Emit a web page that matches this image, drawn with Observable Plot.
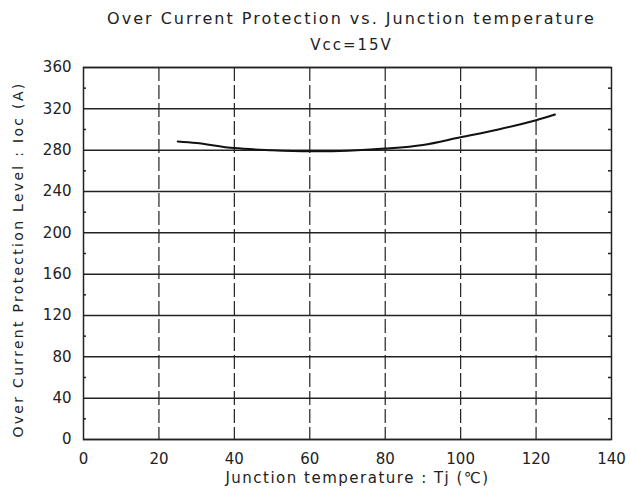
<!DOCTYPE html>
<html>
<head>
<meta charset="utf-8">
<script src="https://cdn.jsdelivr.net/npm/d3@7"></script>
<script src="https://cdn.jsdelivr.net/npm/@observablehq/plot@0.6"></script>
<style>
  body { margin: 0; background: #fff; }
</style>
</head>
<body>
<div id="chart"></div>
<script>
const titleText = "Over Current Protection vs. Junction temperature";
const subtitleText = "Vcc=15V";
const xLabel = "Junction temperature : Tj (\u2103)";
const yLabel = "Over Current Protection Level : Ioc (A)";
const xTicks = [0, 20, 40, 60, 80, 100, 120, 140];
const yTicks = [0, 40, 80, 120, 160, 200, 240, 280, 320, 360];
const yMinor = [20, 60, 100, 140, 180, 220, 260, 300, 340];
const tj  = [25, 30, 40, 50, 60, 70, 80, 90, 100, 110, 120, 125];
const ioc = [288.5, 287, 282, 280, 279, 279.5, 281.5, 285, 292.5, 300, 309, 314.5];

const curve = tj.map((t, i) => ({tj: t, ioc: ioc[i]}));
const ink = "#222";

const chart = Plot.plot({
  width: 630,
  height: 494,
  marginLeft: 83,
  marginRight: 19,
  marginTop: 67,
  marginBottom: 55,
  style: {fontFamily: "DejaVu Sans", fontSize: "14px", color: ink, background: "#fff"},
  x: {domain: [0, 140]},
  y: {domain: [0, 360]},
  marks: [
    Plot.ruleY(yTicks, {stroke: ink, strokeWidth: 1.5}),
    Plot.ruleX(xTicks.filter(d => d > 0 && d < 140), {stroke: ink, strokeWidth: 1.2, strokeDasharray: "14,4"}),
    Plot.ruleY(yMinor, {x1: 0, x2: 0.8, stroke: ink, strokeWidth: 1.5}),
    Plot.ruleY(yMinor, {x1: 139.2, x2: 140, stroke: ink, strokeWidth: 1.5}),
    Plot.frame({stroke: ink, strokeWidth: 1.5}),
    Plot.line(curve, {x: "tj", y: "ioc", curve: "catmull-rom", stroke: "#111", strokeWidth: 2}),
    Plot.axisX({ticks: xTicks, tickSize: 0, tickPadding: 14, label: null, fontSize: 15}),
    Plot.axisY({ticks: yTicks, tickSize: 0, tickPadding: 12, label: null, fontSize: 15}),
    Plot.text([titleText], {frameAnchor: "top", lineAnchor: "middle", dy: -49, dx: 4, fontSize: 16, fill: ink}),
    Plot.text([subtitleText], {frameAnchor: "top", lineAnchor: "middle", dy: -22, dx: 4, fontSize: 15, fill: ink}),
    Plot.text([xLabel], {frameAnchor: "bottom", lineAnchor: "middle", dy: 39, dx: 10, fontSize: 15, fill: ink}),
    Plot.text([yLabel], {frameAnchor: "left", textAnchor: "middle", lineAnchor: "middle", dx: -65, dy: 6, rotate: -90, fontSize: 14, fill: ink})
  ]
});
document.getElementById("chart").append(chart);

const spacing = new Map([[titleText, "2px"], [subtitleText, "2px"], [xLabel, "1.5px"], [yLabel, "2.3px"]]);
d3.select(chart).selectAll("text").each(function() {
  const s = spacing.get(this.textContent);
  if (s) this.style.letterSpacing = s;
});
</script>
</body>
</html>
